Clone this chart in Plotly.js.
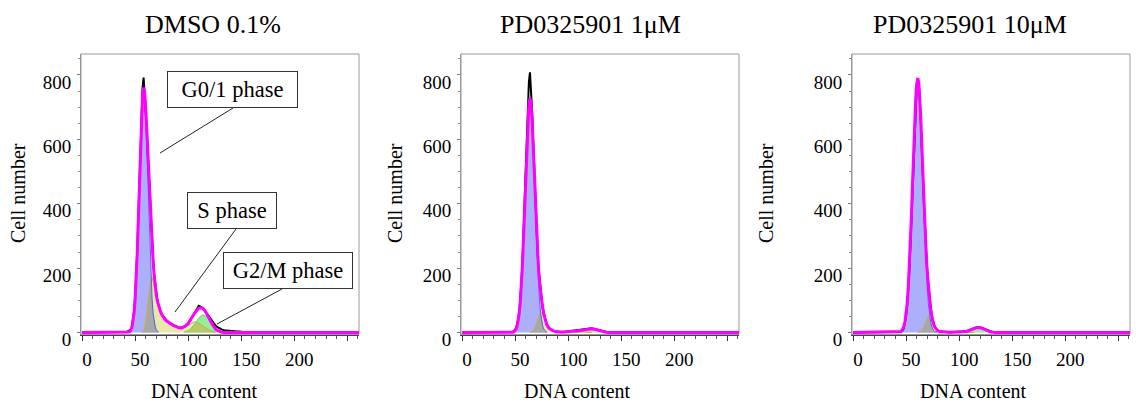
<!DOCTYPE html>
<html>
<head>
<meta charset="utf-8">
<script src="https://cdn.plot.ly/plotly-3.0.1.min.js"></script>
<style>html,body{margin:0;padding:0;background:#fff;}#chart{width:1136px;height:402px;}</style>
</head>
<body>
<div id="chart"></div>
<script>
// ---------- labels ----------
const panelTitles = ['DMSO 0.1%', 'PD0325901 1\u03bcM', 'PD0325901 10\u03bcM'];
const xTitle = 'DNA content';
const yTitle = 'Cell number';
const xTickVals = [0, 50, 100, 150, 200, 250];
const xTickText = ['0', '50', '100', '150', '200', ''];
const yTickVals = [0, 200, 400, 600, 800];
const phaseLabels = ['G0/1 phase', 'S phase', 'G2/M phase'];

// ---------- Panel 1: DMSO 0.1% ----------
const p1BlueX = [44,45,46,47,48,49,50,51,52,53,54,55,56,57,58,59,60,61,62,63,64,65,66,67,68,69,70,71,72];
const p1BlueY = [2,4,8,17,33,60,102,163,245,346,458,570,666,732,755,732,666,570,458,346,245,163,102,60,33,17,8,4,2];
const p1SX = [56,57,58,59,60,61,62,63,64,65,66,67,68,69,70,71,72,73,74,75,76,77,78,79,80,82,84,86,88,90,92,94,96,98,100,102,104,106,108,110,112,114,116,118,120,122,124,126];
const p1SY = [0,2,6,15,32,58,92,128,158,175,172,160,143,125,108,94,82,72,64,57,51,46,42,38,35,30,26,22,19,16,14,14,16,19,23,28,32,34,33,30,25,20,15,11,7,4,2,0];
const p1G2X = [96,98,100,102,104,106,108,110,112,114,116,118,120,122,124,126,128,130,132,134];
const p1G2Y = [1,3,6,10,17,26,36,46,52,55,52,46,36,26,17,10,6,3,1,0];
const p1RawX = [0,40,42,44,45,46,47,48,49,50,51,52,53,54,55,56,57,58,59,60,61,62,63,64,65,66,67,68,69,70,71,72,73,74,75,76,77,78,79,80,82,84,86,88,90,92,94,96,98,100,102,104,106,108,110,112,114,116,118,120,122,124,126,128,130,132,134,136,138,140,142,144,146,148,150,152,154,156,262];
const p1RawY = [0,0,2,5,7,10,16,38,65,110,170,255,355,468,580,680,760,792,745,700,628,552,476,405,340,278,224,180,145,118,98,84,74,65,58,52,47,43,39,36,31,27,23,20,17,15,15,17,21,27,38,50,62,75,83,80,74,66,57,47,37,28,21,16,12,9,7,6,5,5,4,4,3,3,2,2,1,0,0];

// ---------- Panel 2: PD0325901 1 uM ----------
const p2BlueX = [48,49,50,51,52,53,54,55,56,57,58,59,60,61,62,63,64,65,66,67,68,69,70,71,72,73,74,75,76,77,78,79,80];
const p2BlueY = [1,3,6,11,21,37,62,99,150,217,299,393,490,583,659,710,728,710,659,583,490,393,299,217,150,99,62,37,21,11,6,3,1];
const p2SX = [64,65,66,67,68,69,70,71,72,73,74,75,76,77,78,79,80,82,84,86,88,90,92,94,96,98,100,102,104,106,108,110,112,114,116,118,120,122];
const p2SY = [0,1,3,6,11,18,27,38,50,60,65,62,55,46,37,29,22,13,8,5,3,2,2,2,2,3,3,4,4,4,4,3,3,2,2,1,1,0];
const p2G2X = [106,108,110,112,114,116,118,120,122,124,126,128,130,132,134,136,138];
const p2G2Y = [1,1,3,5,7,9,11,12,12,11,9,7,5,3,2,1,0];
const p2RawX = [0,44,45,46,47,48,49,50,51,52,53,54,55,56,57,58,59,60,61,62,63,64,65,66,67,68,69,70,71,72,73,74,75,76,77,78,79,80,82,84,86,88,90,92,94,96,98,100,102,104,106,108,110,112,114,116,118,120,122,124,126,128,130,132,134,136,138,140,262];
const p2RawY = [0,0,0,1,2,3,5,9,15,26,43,70,108,160,228,312,408,510,610,700,780,808,760,690,600,505,415,330,262,205,162,130,102,78,60,45,34,25,14,8,5,3,2,1,1,2,3,4,5,6,7,8,9,10,11,12,13,13,13,12,10,8,6,4,3,2,1,0,0];

// ---------- Panel 3: PD0325901 10 uM ----------
const p3BlueX = [44,45,46,47,48,49,50,51,52,53,54,55,56,57,58,59,60,61,62,63,64,65,66,67,68,69,70,71,72,73,74,75,76,77,78,79];
const p3BlueY = [2,3,6,11,20,35,57,90,136,197,273,362,459,558,650,724,773,790,773,724,650,558,459,362,273,197,136,90,57,35,20,11,6,3,2,1];
const p3SX = [61,62,63,64,65,66,67,68,69,70,71,72,73,74,75,76,77,78,79,80,82,84,86,88,90,92,94,96,98,100,102,104,106,108,110,112,114];
const p3SY = [0,1,2,4,7,12,19,28,38,48,52,49,42,34,26,19,14,10,7,5,3,2,1,1,1,1,1,1,1,1,1,1,1,1,1,1,0];
const p3G2X = [100,102,104,106,108,110,112,114,116,118,120,122,124,126,128,130,132,134];
const p3G2Y = [0,0,1,2,4,7,10,13,15,16,15,13,10,7,4,2,1,0];
const p3RawX = [0,44,45,46,47,48,49,50,51,52,53,54,55,56,57,58,59,60,61,62,63,64,65,66,67,68,69,70,71,72,73,74,75,76,77,78,79,80,82,84,86,88,90,92,94,96,98,100,102,104,106,108,110,112,114,116,118,120,122,124,126,128,130,132,134,136,262];
const p3RawY = [0,1,2,4,8,16,30,52,85,130,190,265,355,450,548,640,715,765,785,770,722,650,562,470,382,303,238,187,145,110,80,57,40,28,19,13,9,6,3,2,1,1,1,1,1,1,1,1,1,2,3,5,8,11,14,16,17,16,14,11,8,5,3,2,1,0,0];

// ---------- build ----------
const panels = [
  {blueX:p1BlueX, blueY:p1BlueY, sX:p1SX, sY:p1SY, g2X:p1G2X, g2Y:p1G2Y, rawX:p1RawX, rawY:p1RawY},
  {blueX:p2BlueX, blueY:p2BlueY, sX:p2SX, sY:p2SY, g2X:p2G2X, g2Y:p2G2Y, rawX:p2RawX, rawY:p2RawY},
  {blueX:p3BlueX, blueY:p3BlueY, sX:p3SX, sY:p3SY, g2X:p3G2X, g2Y:p3G2Y, rawX:p3RawX, rawY:p3RawY}
];

const C = {
  blueFill:'rgb(172,176,250)', blueLine:'rgb(85,95,235)',
  sFill:'rgb(232,232,168)', sLine:'rgb(195,175,70)',
  grayFill:'rgb(168,168,168)',
  g2Fill:'rgb(150,238,150)', g2Line:'rgb(110,210,110)',
  oliveFill:'rgb(180,205,105)',
  raw:'#000000', fit:'rgb(255,0,255)'
};

function toMap(xs, ys){ const m = new Map(); xs.forEach((x,i)=>m.set(x, ys[i])); return m; }

const traces = [];
panels.forEach((d, i) => {
  const xa = i === 0 ? 'x' : 'x' + (i+1);
  const ya = i === 0 ? 'y' : 'y' + (i+1);
  const blue = toMap(d.blueX, d.blueY), s = toMap(d.sX, d.sY), g2 = toMap(d.g2X, d.g2Y);
  const allX = Array.from(new Set([].concat(d.rawX, d.blueX, d.sX, d.g2X))).sort((a,b)=>a-b);
  const fitY = allX.map(x => (blue.get(x)||0) + (s.get(x)||0) + (g2.get(x)||0));
  const grayX = d.blueX.filter(x => s.has(x));
  const grayY = grayX.map(x => Math.min(blue.get(x), s.get(x)));
  const oliveX = d.g2X.filter(x => s.has(x));
  const oliveY = oliveX.map(x => Math.min(g2.get(x), s.get(x)));
  const base = {xaxis:xa, yaxis:ya, hoverinfo:'skip', showlegend:false, mode:'lines'};
  traces.push(Object.assign({}, base, {x:d.sX, y:d.sY, fill:'tozeroy', fillcolor:C.sFill, line:{width:0}}));
  traces.push(Object.assign({}, base, {x:d.blueX, y:d.blueY, fill:'tozeroy', fillcolor:C.blueFill, line:{width:0}}));
  traces.push(Object.assign({}, base, {x:grayX, y:grayY, fill:'tozeroy', fillcolor:C.grayFill, line:{width:0}}));
  traces.push(Object.assign({}, base, {x:d.g2X, y:d.g2Y, fill:'tozeroy', fillcolor:C.g2Fill, line:{width:0}}));
  traces.push(Object.assign({}, base, {x:oliveX, y:oliveY, fill:'tozeroy', fillcolor:C.oliveFill, line:{width:0}}));
  traces.push(Object.assign({}, base, {x:d.sX, y:d.sY, line:{color:C.sLine, width:1}}));
  traces.push(Object.assign({}, base, {x:d.blueX, y:d.blueY, line:{color:C.blueLine, width:1}}));
  traces.push(Object.assign({}, base, {x:d.g2X, y:d.g2Y, line:{color:C.g2Line, width:1}}));
  traces.push(Object.assign({}, base, {x:d.rawX, y:d.rawY, line:{color:C.raw, width:2}}));
  traces.push(Object.assign({}, base, {x:allX, y:fitY, line:{color:C.fit, width:3}}));
});

const W = 1136, H = 402;
const px = v => v / W, py = v => 1 - v / H;
const xDomains = [[81,359],[461,739],[852,1130]];
const yDomain = [py(334.5), py(54)];
const FONT = 'Liberation Serif, Times New Roman, serif';

function xAxis(dom){
  return {domain:[px(dom[0]), px(dom[1])], range:[-1,261], tickmode:'array', tickvals:xTickVals, ticktext:xTickText,
    ticks:'outside', ticklen:5, tickwidth:1, tickcolor:'#333', showline:true, linecolor:'#444', linewidth:1,
    showgrid:false, zeroline:false, tickfont:{family:FONT, size:19, color:'#000'}, ticklabelstandoff:3, ticklabelshift:5,
    minor:{tick0:0, dtick:10, ticks:'outside', ticklen:3, tickcolor:'#555', showgrid:false}, fixedrange:true};
}
function yAxis(){
  return {domain:yDomain, range:[-6,865], tickmode:'array', tickvals:yTickVals,
    ticks:'outside', ticklen:3, tickwidth:1, tickcolor:'#777', showline:true, linecolor:'#999', linewidth:1,
    showgrid:false, zeroline:false, tickfont:{family:FONT, size:19, color:'#000'}, ticklabelstandoff:2, ticklabelshift:7,
    minor:{tick0:0, dtick:50, ticks:'outside', ticklen:2, tickcolor:'#888', showgrid:false}, fixedrange:true};
}

const layout = {
  width:W, height:H, margin:{l:0,r:0,t:0,b:0}, paper_bgcolor:'#fff', plot_bgcolor:'#fff', showlegend:false,
  font:{family:FONT, color:'#000'},
  xaxis:Object.assign(xAxis(xDomains[0]), {anchor:'y'}),
  yaxis:Object.assign(yAxis(), {anchor:'x'}),
  xaxis2:Object.assign(xAxis(xDomains[1]), {anchor:'y2'}),
  yaxis2:Object.assign(yAxis(), {anchor:'x2'}),
  xaxis3:Object.assign(xAxis(xDomains[2]), {anchor:'y3'}),
  yaxis3:Object.assign(yAxis(), {anchor:'x3'}),
  annotations:[], shapes:[]
};

const titleCx = [213, 590, 970];
const yTitleCx = [18, 395, 766];
const xTitleCx = [204, 577, 973];
for (let i = 0; i < 3; i++){
  layout.annotations.push({text:panelTitles[i], xref:'paper', yref:'paper', x:px(titleCx[i]), y:py(25), showarrow:false, xanchor:'center', yanchor:'middle', font:{family:FONT, size:26}});
  layout.annotations.push({text:yTitle, xref:'paper', yref:'paper', x:px(yTitleCx[i]), y:py(193), showarrow:false, xanchor:'center', yanchor:'middle', textangle:-90, font:{family:FONT, size:20}});
  layout.annotations.push({text:xTitle, xref:'paper', yref:'paper', x:px(xTitleCx[i]), y:py(391), showarrow:false, xanchor:'center', yanchor:'middle', font:{family:FONT, size:20}});
  const xr = i === 0 ? 'x domain' : 'x' + (i+1) + ' domain';
  const yr = i === 0 ? 'y domain' : 'y' + (i+1) + ' domain';
  layout.shapes.push({type:'rect', xref:xr, yref:yr, x0:0, x1:1, y0:0, y1:1, line:{color:'#999', width:1}, layer:'below'});
}

// phase label boxes (panel 1) with leader lines
const boxes = [
  {t:phaseLabels[0], cx:232.5, cy:89.5, w:129, h:35, lx0:233, ly0:108, lx1:160, ly1:153},
  {t:phaseLabels[1], cx:232, cy:210.5, w:88, h:35, lx0:236, ly0:229, lx1:175, ly1:312},
  {t:phaseLabels[2], cx:288, cy:270.5, w:128, h:35, lx0:282, ly0:289, lx1:217, ly1:324}
];
boxes.forEach(b => {
  layout.shapes.push({type:'line', xref:'paper', yref:'paper', x0:px(b.lx0), y0:py(b.ly0), x1:px(b.lx1), y1:py(b.ly1), line:{color:'#222', width:1}, layer:'above'});
  layout.annotations.push({text:b.t, xref:'paper', yref:'paper', x:px(b.cx), y:py(b.cy), showarrow:false, xanchor:'center', yanchor:'middle',
    width:b.w, height:b.h, bgcolor:'#fff', bordercolor:'#333', borderwidth:1, borderpad:0, font:{family:FONT, size:22.5}});
});

Plotly.newPlot('chart', traces, layout, {staticPlot:true, displayModeBar:false});
</script>
</body>
</html>
